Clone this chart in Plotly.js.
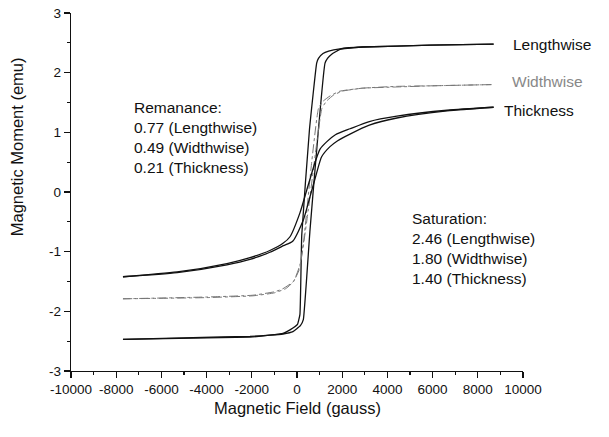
<!DOCTYPE html>
<html>
<head>
<meta charset="utf-8">
<script src="https://cdn.plot.ly/plotly-3.0.1.min.js"></script>
<style>html,body{margin:0;padding:0;background:#fff;}#chart{width:609px;height:437px;}</style>
</head>
<body>
<div id="chart"></div>
<script>
// Lengthwise loop: descending branch (field decreasing) and ascending branch
const lengthDescX = [8700, 5900, 2900, 1900, 1400, 1150, 950, 870, 550, 210, 130, 20, -310, -620, -1200, -2080, -4600, -7700];
const lengthDescY = [2.48, 2.46, 2.43, 2.40, 2.36, 2.32, 2.24, 2.16, 1.04, -0.72, -2.05, -2.22, -2.31, -2.37, -2.40, -2.43, -2.45, -2.47];
const lengthAscX = [-7700, -4600, -2080, -1200, -620, -180, 150, 280, 575, 1240, 1350, 1535, 1900, 2900, 5900, 8700];
const lengthAscY = [-2.47, -2.44, -2.42, -2.40, -2.38, -2.34, -2.24, -2.14, -0.64, 2.16, 2.24, 2.31, 2.39, 2.43, 2.46, 2.48];

// Widthwise loop
const widthDescX = [8600, 6000, 4400, 2900, 1900, 1460, 1150, 950, 650, 300, 100, -160, -620, -970, -1950, -4000, -7700];
const widthDescY = [1.80, 1.78, 1.76, 1.74, 1.69, 1.61, 1.52, 1.40, 0.50, -0.80, -1.30, -1.50, -1.62, -1.67, -1.73, -1.76, -1.79];
const widthAscX = [-7700, -4000, -1950, -1000, -500, -150, 150, 500, 900, 1100, 1300, 1600, 2000, 2900, 4400, 6000, 8600];
const widthAscY = [-1.79, -1.77, -1.74, -1.69, -1.62, -1.50, -1.20, -0.30, 0.90, 1.40, 1.52, 1.62, 1.69, 1.74, 1.77, 1.78, 1.80];

// Thickness loop
const thickDescX = [8700, 6640, 4420, 3200, 2350, 1700, 1310, 1020, 800, 430, 130, -310, -620, -1200, -2080, -3100, -5300, -7700];
const thickDescY = [1.42, 1.37, 1.27, 1.18, 1.06, 0.96, 0.84, 0.72, 0.50, 0.03, -0.35, -0.75, -0.86, -0.98, -1.10, -1.20, -1.34, -1.42];
const thickAscX = [-7700, -5300, -3100, -2080, -1200, -600, -180, 280, 575, 870, 1090, 1460, 1800, 2345, 3200, 4420, 6640, 8700];
const thickAscY = [-1.42, -1.35, -1.22, -1.13, -1.01, -0.90, -0.82, -0.47, -0.08, 0.32, 0.59, 0.76, 0.86, 0.97, 1.12, 1.24, 1.36, 1.42];

const xTickVals = [-10000, -8000, -6000, -4000, -2000, 0, 2000, 4000, 6000, 8000, 10000];
const xTickText = ["-10000", "-8000", "-6000", "-4000", "-2000", "0", "2000", "4000", "6000", "8000", "10000"];
const yTickVals = [-3, -2, -1, 0, 1, 2, 3];
const yTickText = ["-3", "-2", "-1", "0", "1", "2", "3"];

const seriesNames = ["Lengthwise", "Widthwise", "Thickness"];
const remanence = ["0.77", "0.49", "0.21"];
const saturation = ["2.46", "1.80", "1.40"];

const FONT = "Liberation Sans, Arial, sans-serif";

const solid = {color: "#111", width: 1.3, shape: "spline", smoothing: 0.6};
const solidL = {color: "#111", width: 1.3, shape: "spline", smoothing: 0.3};
const dashed = {color: "#777", width: 1, dash: "dashdot", shape: "spline", smoothing: 0.4};

const traces = [
  {x: lengthDescX, y: lengthDescY, mode: "lines", line: solidL},
  {x: lengthAscX, y: lengthAscY, mode: "lines", line: solidL},
  {x: widthDescX, y: widthDescY, mode: "lines", line: dashed},
  {x: widthAscX, y: widthAscY, mode: "lines", line: dashed},
  {x: thickDescX, y: thickDescY, mode: "lines", line: solid},
  {x: thickAscX, y: thickAscY, mode: "lines", line: solid}
];

const remText = "Remanance:<br>" + seriesNames.map((n, i) => remanence[i] + " (" + n + ")").join("<br>");
const satText = "Saturation:<br>" + seriesNames.map((n, i) => saturation[i] + " (" + n + ")").join("<br>");

const layout = {
  width: 609, height: 437,
  margin: {l: 71, r: 86, t: 13, b: 66},
  paper_bgcolor: "#fff", plot_bgcolor: "#fff",
  showlegend: false,
  font: {family: FONT, color: "#111"},
  xaxis: {
    range: [-10000, 10000], tickmode: "array", tickvals: xTickVals, ticktext: xTickText,
    showline: true, linecolor: "#111", linewidth: 1.2, mirror: false,
    ticks: "outside", ticklen: 6, tickcolor: "#111", tickwidth: 1.2,
    minor: {dtick: 1000, tick0: 0, ticks: "outside", ticklen: 3, tickcolor: "#111", showgrid: false},
    showgrid: false, zeroline: false, tickfont: {family: FONT, size: 13.5, color: "#111"}
  },
  yaxis: {
    range: [-3, 3], tickmode: "array", tickvals: yTickVals, ticktext: yTickText,
    showline: true, linecolor: "#111", linewidth: 1.2, mirror: false,
    ticks: "outside", ticklen: 6, tickcolor: "#111", tickwidth: 1.2,
    minor: {dtick: 0.5, tick0: 0, ticks: "outside", ticklen: 3, tickcolor: "#111", showgrid: false},
    showgrid: false, zeroline: false, tickfont: {family: FONT, size: 13.5, color: "#111"}
  },
  annotations: [
    {xref: "paper", yref: "paper", x: 0.5, y: -0.103, xanchor: "center", yanchor: "middle",
     text: "Magnetic Field (gauss)", showarrow: false, font: {family: FONT, size: 16.5, color: "#111"}},
    {xref: "paper", yref: "paper", x: -0.120, y: 0.627, xanchor: "center", yanchor: "middle", textangle: -90,
     text: "Magnetic Moment (emu)", showarrow: false, font: {family: FONT, size: 16.5, color: "#111"}},
    {xref: "paper", yref: "paper", x: 0.973, y: 0.911, xanchor: "left", yanchor: "middle",
     text: seriesNames[0], showarrow: false, font: {family: FONT, size: 15.5, color: "#111"}},
    {xref: "paper", yref: "paper", x: 0.971, y: 0.808, xanchor: "left", yanchor: "middle",
     text: seriesNames[1], showarrow: false, font: {family: FONT, size: 15.5, color: "#888"}},
    {xref: "paper", yref: "paper", x: 0.953, y: 0.729, xanchor: "left", yanchor: "middle",
     text: seriesNames[2], showarrow: false, font: {family: FONT, size: 15.5, color: "#111"}},
    {xref: "paper", yref: "paper", x: 0.134, y: 0.651, xanchor: "left", yanchor: "middle", align: "left",
     text: remText, showarrow: false, font: {family: FONT, size: 15.5, color: "#111"}},
    {xref: "paper", yref: "paper", x: 0.749, y: 0.342, xanchor: "left", yanchor: "middle", align: "left",
     text: satText, showarrow: false, font: {family: FONT, size: 15.5, color: "#111"}}
  ]
};

Plotly.newPlot("chart", traces, layout, {staticPlot: true, displayModeBar: false});
</script>
</body>
</html>
